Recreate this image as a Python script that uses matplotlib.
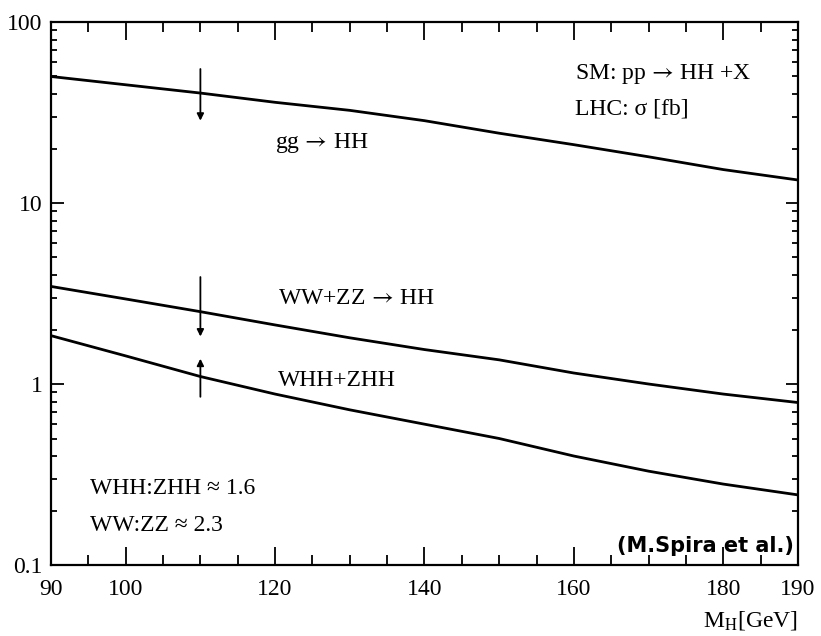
import numpy as np
import matplotlib
matplotlib.use("Agg")
import matplotlib.pyplot as plt
from matplotlib.ticker import FixedLocator, LogLocator, NullFormatter

# Higgs mass grid [GeV] and cross sections [fb]
m_higgs = [90, 100, 110, 120, 130, 140, 150, 160, 170, 180, 190]
sigma_gg = [50.0, 45.0, 40.5, 36.0, 32.5, 28.5, 24.3, 21.0, 18.0, 15.3, 13.4]
sigma_vbf = [3.46, 2.95, 2.51, 2.12, 1.80, 1.55, 1.36, 1.15, 1.00, 0.88, 0.79]
sigma_vhh = [1.85, 1.43, 1.10, 0.88, 0.72, 0.60, 0.50, 0.40, 0.33, 0.28, 0.244]

# uncertainty arrows at M_H = 110 GeV: (start, end) in fb
arrow_mass = 110
arrow_gg = (55.0, 28.5)
arrow_vbf = (3.9, 1.83)
arrow_vhh = (0.85, 1.38)

x_ticks = [90, 100, 120, 140, 160, 180, 190]
y_ticks = [0.1, 1, 10, 100]
y_labels = ["0.1", "1", "10", "100"]

serif = ["Liberation Serif", "DejaVu Serif"]
plt.rcParams["font.family"] = serif
plt.rcParams["mathtext.fontset"] = "stix"

fig = plt.figure(figsize=(8.21, 6.36), dpi=100)
ax = fig.add_axes([0.0621, 0.1116, 0.9099, 0.8538])

for sig in (sigma_gg, sigma_vbf, sigma_vhh):
    ax.plot(m_higgs, sig, color="black", lw=2.0, solid_capstyle="butt")

for (y0, y1) in (arrow_gg, arrow_vbf, arrow_vhh):
    ax.annotate("", xy=(arrow_mass, y1), xytext=(arrow_mass, y0),
                arrowprops=dict(arrowstyle="-|>", lw=1.3, color="black",
                                mutation_scale=10, shrinkA=0, shrinkB=0))

ax.set_yscale("log")
ax.set_xlim(90, 190)
ax.set_ylim(0.1, 100)

ax.xaxis.set_major_locator(FixedLocator(x_ticks))
ax.xaxis.set_minor_locator(FixedLocator(np.arange(95, 190, 5)))
ax.set_xticklabels([str(t) for t in x_ticks])
ax.yaxis.set_major_locator(FixedLocator(y_ticks))
ax.set_yticklabels(y_labels)
ax.yaxis.set_minor_locator(LogLocator(base=10, subs=np.arange(2, 10)))
ax.yaxis.set_minor_formatter(NullFormatter())

ax.tick_params(which="both", direction="in", top=True, right=True,
               width=1.3, labelsize=17)
ax.tick_params(axis="x", which="major", length=13, pad=10)
ax.tick_params(axis="x", which="minor", length=7)
ax.tick_params(axis="y", which="major", length=9, pad=6)
ax.tick_params(axis="y", which="minor", length=4)
for s in ax.spines.values():
    s.set_linewidth(1.6)

arrow = r"$\,\rightarrow\,$"

# process labels
ax.text(120, 21.5, "gg" + arrow + "HH", fontsize=17, va="center", ha="left")
ax.text(120.4, 2.98, "WW+ZZ" + arrow + "HH", fontsize=17, va="center", ha="left")
ax.text(120.4, 1.05, "WHH+ZHH", fontsize=17, va="center", ha="left")
ax.text(160.1, 51.9, "SM: pp" + arrow + "HH +X", fontsize=17, va="center", ha="left")
ax.text(160.1, 33.2, "LHC: σ [fb]", fontsize=17, va="center", ha="left")
ax.text(95.2, 0.264, "WHH:ZHH ≈ 1.6", fontsize=17, va="center", ha="left")
ax.text(95.2, 0.165, "WW:ZZ ≈ 2.3", fontsize=17, va="center", ha="left")
ax.text(189.5, 0.128, "(M.Spira et al.)", fontsize=15, fontweight="bold",
        family=["DejaVu Sans"], va="center", ha="right")

fig.text(0.972, 0.025, r"M$_{\rm H}$[GeV]", fontsize=17, ha="right", va="center")

fig.savefig("out.png", dpi=100)
